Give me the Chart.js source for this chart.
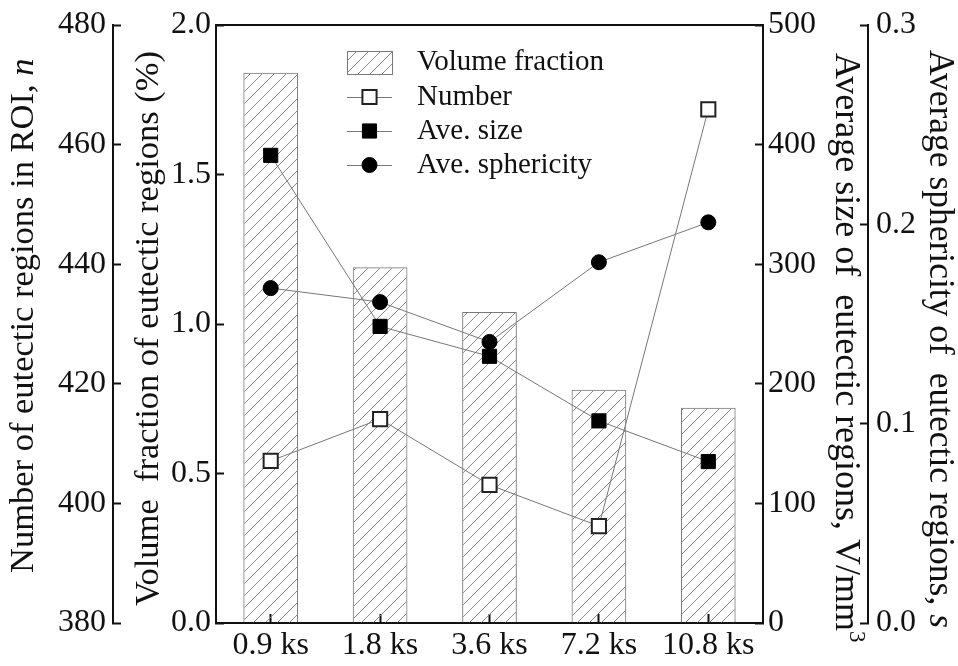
<!DOCTYPE html>
<html>
<head>
<meta charset="utf-8">
<script src="https://cdn.jsdelivr.net/npm/chart.js@4.4.1/dist/chart.umd.min.js"></script>
<style>
  html, body { margin: 0; padding: 0; background: #fff; }
</style>
</head>
<body>
<canvas id="chart" width="958" height="666"></canvas>
<script>
// holding times and the measured quantities at each one
const categories = ['0.9 ks', '1.8 ks', '3.6 ks', '7.2 ks', '10.8 ks'];
const volumeFraction = [1.84, 1.19, 1.04, 0.78, 0.72];   // %
const regionCount = [407.1, 414.1, 403.1, 396.2, 465.9];  // n
const aveSize = [391, 248, 223, 169, 135];                // V/mm3
const aveSphericity = [0.168, 0.161, 0.141, 0.181, 0.201];

// axis ranges: [min, max, step]
const countRange = [380, 480, 20];
const fractionRange = [0, 2.0, 0.5];
const sizeRange = [0, 500, 100];
const sphericityRange = [0, 0.3, 0.1];

const SERIF = '"Liberation Serif", "Times New Roman", serif';
const INK = '#111';

// diagonal hatch used for the volume fraction bars
function makeHatch() {
  const tile = document.createElement('canvas');
  tile.width = 12; tile.height = 12;
  const g = tile.getContext('2d');
  g.strokeStyle = '#8c8c8c';
  g.lineWidth = 1;
  g.beginPath();
  g.moveTo(0, 12); g.lineTo(12, 0);
  g.moveTo(-2, 2); g.lineTo(2, -2);
  g.moveTo(10, 14); g.lineTo(14, 10);
  g.stroke();
  return g.createPattern(tile, 'repeat');
}
const hatch = makeHatch();

// keep the box sizes fixed and stop the end labels from pushing the plot inwards
function fixBox(s, width, height) {
  if (width !== undefined) s.width = width;
  if (height !== undefined) s.height = height;
  s.paddingTop = 0; s.paddingBottom = 0;
  s.paddingLeft = 0; s.paddingRight = 0;
}

function yAxis(position, weight, range, width, pad, digits) {
  return {
    type: 'linear',
    position: position,
    weight: weight,
    min: range[0],
    max: range[1],
    ticks: {
      stepSize: range[2],
      padding: pad,
      color: INK,
      font: { family: SERIF, size: 32 },
      callback: v => Number(v).toFixed(digits)
    },
    grid: { drawOnChartArea: false, tickLength: -8, tickWidth: 2, tickColor: INK },
    border: { color: INK, width: 2 },
    afterFit: s => fixBox(s, width)
  };
}

// rotated axis titles, drawn by hand so that n, s and the superscript can be styled
// x: centre of the text line, y0: where the text starts, rot: -1 reads upwards, 1 downwards
const axisTitles = [
  { x: 23.5, y0: 573, rot: -1, size: 34.5, parts: [['Number of eutectic regions in ROI, ', ''], ['n', 'italic']] },
  { x: 148.5, y0: 606, rot: -1, size: 34.5, parts: [['Volume  fraction of eutectic regions (%)', '']] },
  { x: 845.5, y0: 53, rot: 1, size: 36, parts: [['Average size of  eutectic regions, V/mm', ''], ['3', 'sup']] },
  { x: 939.5, y0: 50, rot: 1, size: 35.5, parts: [['Average sphericity of  eutectic regions, ', ''], ['s', 'italic']] }
];

function partFont(style, size) {
  if (style === 'italic') return 'italic ' + size + 'px ' + SERIF;
  if (style === 'sup') return Math.round(size * 0.64) + 'px ' + SERIF;
  return size + 'px ' + SERIF;
}

const decorations = {
  id: 'decorations',
  afterDraw(chart) {
    const ctx = chart.ctx;

    ctx.save();
    ctx.fillStyle = INK;
    ctx.textBaseline = 'middle';
    ctx.textAlign = 'left';
    axisTitles.forEach(t => {
      ctx.save();
      ctx.translate(t.x, t.y0);
      ctx.rotate(t.rot * Math.PI / 2);
      let x = 0;
      t.parts.forEach(p => {
        ctx.font = partFont(p[1], t.size);
        ctx.fillText(p[0], x, p[1] === 'sup' ? -11 : 0);
        x += ctx.measureText(p[0]).width;
      });
      ctx.restore();
    });
    ctx.restore();

    // legend inside the plot
    const lx = 347, lw = 45, tx = 417;
    const rows = [62, 97, 131, 165];
    ctx.save();
    ctx.font = '29px ' + SERIF;
    ctx.textBaseline = 'middle';
    chart.data.datasets.forEach((ds, i) => {
      const y = rows[i];
      if (ds.type === 'bar') {
        ctx.fillStyle = hatch;
        ctx.fillRect(lx, y - 11, lw, 23);
        ctx.strokeStyle = ds.borderColor;
        ctx.lineWidth = 1;
        ctx.strokeRect(lx + 0.5, y - 10.5, lw, 23);
      } else {
        ctx.strokeStyle = ds.borderColor;
        ctx.lineWidth = 1;
        ctx.beginPath();
        ctx.moveTo(lx, y + 0.5);
        ctx.lineTo(lx + lw, y + 0.5);
        ctx.stroke();
        ctx.fillStyle = ds.pointBackgroundColor;
        ctx.strokeStyle = ds.pointBorderColor;
        ctx.lineWidth = ds.pointBorderWidth;
        Chart.helpers.drawPoint(ctx, {
          pointStyle: ds.pointStyle, radius: ds.pointRadius, borderWidth: ds.pointBorderWidth, rotation: 0
        }, lx + lw / 2, y);
      }
      ctx.fillStyle = INK;
      ctx.fillText(ds.label, tx, y);
    });
    ctx.restore();
  }
};

new Chart(document.getElementById('chart').getContext('2d'), {
  data: {
    labels: categories,
    datasets: [
      {
        type: 'bar',
        label: 'Volume fraction',
        data: volumeFraction,
        xAxisID: 'x',
        yAxisID: 'yVol',
        backgroundColor: hatch,
        borderColor: '#7a7a7a',
        borderWidth: 1,
        barPercentage: 0.5,
        categoryPercentage: 1,
        order: 5
      },
      {
        type: 'line',
        label: 'Number',
        data: regionCount,
        xAxisID: 'x',
        yAxisID: 'yNum',
        borderColor: '#777',
        borderWidth: 1,
        pointStyle: 'rect',
        pointRadius: 10,
        pointBackgroundColor: '#fff',
        pointBorderColor: '#222',
        pointBorderWidth: 2,
        order: 1
      },
      {
        type: 'line',
        label: 'Ave. size',
        data: aveSize,
        xAxisID: 'x',
        yAxisID: 'ySize',
        borderColor: '#777',
        borderWidth: 1,
        pointStyle: 'rect',
        pointRadius: 10,
        pointBackgroundColor: '#000',
        pointBorderColor: '#000',
        pointBorderWidth: 1,
        order: 1
      },
      {
        type: 'line',
        label: 'Ave. sphericity',
        data: aveSphericity,
        xAxisID: 'x',
        yAxisID: 'ySph',
        borderColor: '#777',
        borderWidth: 1,
        pointStyle: 'circle',
        pointRadius: 7.5,
        pointBackgroundColor: '#000',
        pointBorderColor: '#000',
        pointBorderWidth: 1,
        order: 1
      }
    ]
  },
  options: {
    responsive: false,
    animation: false,
    layout: { padding: { top: 25, left: 0, right: 0, bottom: 0 } },
    plugins: { legend: { display: false }, tooltip: { enabled: false } },
    scales: {
      x: {
        type: 'category',
        position: 'bottom',
        offset: true,
        grid: { offset: false, drawOnChartArea: false, tickLength: -9, tickWidth: 2, tickColor: INK },
        border: { color: INK, width: 2 },
        ticks: { padding: 12, color: INK, font: { family: SERIF, size: 32 }, maxRotation: 0, autoSkip: false },
        afterFit: s => fixBox(s, undefined, 43)
      },
      xTop: {
        type: 'category',
        position: 'top',
        grid: { drawOnChartArea: false, drawTicks: false },
        border: { color: INK, width: 2 },
        ticks: { display: false },
        afterFit: s => fixBox(s, undefined, 0)
      },
      yVol: yAxis('left', 0, fractionRange, 103, 13, 1),
      yNum: yAxis('left', 1, countRange, 113, 15, 0),
      ySize: yAxis('right', 0, sizeRange, 105, 13, 0),
      ySph: yAxis('right', 1, sphericityRange, 90, 16, 1)
    }
  },
  plugins: [decorations]
});
</script>
</body>
</html>
